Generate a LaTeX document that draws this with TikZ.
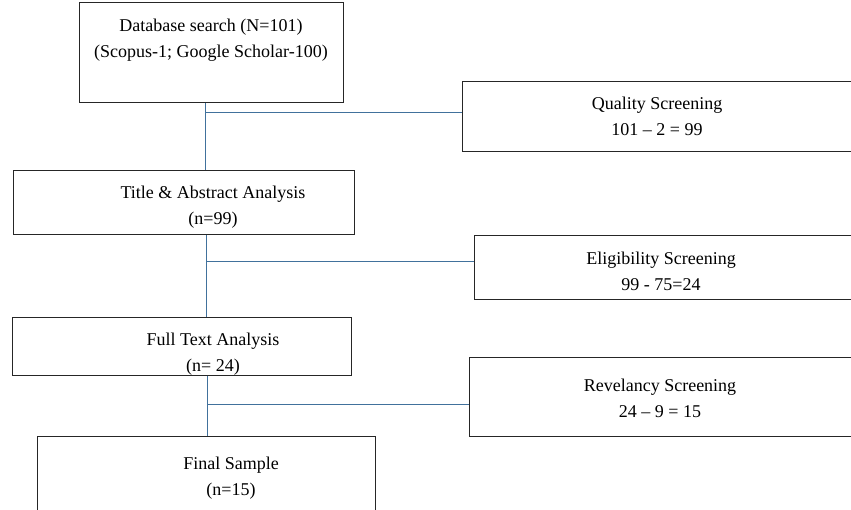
\documentclass[tikz,border=0pt]{standalone}
\usepackage{fontspec}
\setmainfont{Liberation Serif}
\definecolor{connblue}{RGB}{65,113,156}
\begin{document}
\begin{tikzpicture}[x=1pt,y=-1pt,
 box/.style={draw=black!85,line width=1pt,rectangle,inner sep=0pt},
 txt/.style={align=center,font=\fontsize{18}{26}\selectfont,inner sep=0pt},
 link/.style={draw=connblue,line width=1pt}]
\useasboundingbox (0,0) rectangle (851,510);
% boxes
\node[box,minimum width=264pt,minimum height=100pt] (a) at (211,53) {};
\node[box,minimum width=420pt,minimum height=70pt] (qual) at (672,117) {};
\node[box,minimum width=341pt,minimum height=64pt] (title) at (183.5,203) {};
\node[box,minimum width=400pt,minimum height=64pt] (elig) at (674,268) {};
\node[box,minimum width=339pt,minimum height=57pt] (full) at (181.5,346.5) {};
\node[box,minimum width=401pt,minimum height=78pt] (rev) at (669.5,397) {};
\node[box,minimum width=338pt,minimum height=104pt] (final) at (206,488) {};
% texts
\node[txt] (at) at (211,40) {Database search (N=101)\\(Scopus-1; Google Scholar-100)};
\node[txt] (qt) at (657,116) {Quality Screening\\101 -- 2 = 99};
\node[txt] (tt) at (213,207) {Title \& Abstract Analysis\\(n=99)};
\node[txt] (et) at (661,271) {Eligibility Screening\\99 - 75=24};
\node[txt] (ft) at (213,354) {Full Text Analysis\\(n= 24)};
\node[txt] (rt) at (660,398) {Revelancy Screening\\24 -- 9 = 15};
\node[txt] (st) at (231,478) {Final Sample\\(n=15)};
% connectors
\coordinate (j1) at (205,113);
\coordinate (j2) at (206,262);
\coordinate (j3) at (207,404);
\draw[link] (a.south -| j1) -- (title.north -| j1);
\draw[link] (j1) -- (qual.west |- j1);
\draw[link] (title.south -| j2) -- (full.north -| j2);
\draw[link] (j2) -- (elig.west |- j2);
\draw[link] (full.south -| j3) -- (final.north -| j3);
\draw[link] (j3) -- (rev.west |- j3);
\end{tikzpicture}
\end{document}
